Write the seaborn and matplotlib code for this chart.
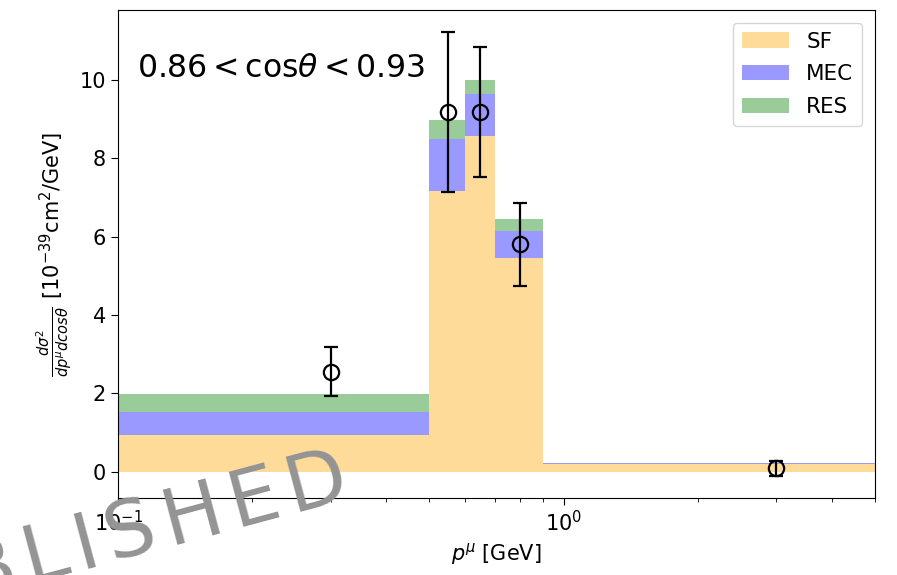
import numpy as np
import pandas as pd
import matplotlib
matplotlib.use("Agg")
import matplotlib.pyplot as plt
from matplotlib.patches import Patch
from matplotlib.font_manager import FontProperties
from matplotlib.textpath import TextToPath
import seaborn as sns

# Muon momentum bin edges [GeV] and bin centres
bin_edges = [0.1, 0.5, 0.6, 0.7, 0.9, 5.0]
bin_centres = [0.3, 0.55, 0.65, 0.80, 3.0]

# Stacked prediction per interaction channel [1e-39 cm^2/GeV]
sf_xsec = [0.93, 7.17, 8.58, 5.46, 0.20]
mec_xsec = [0.60, 1.33, 1.07, 0.67, 0.01]
res_xsec = [0.45, 0.47, 0.35, 0.33, 0.01]

# Measured cross section with uncertainties
data_p = [0.3, 0.55, 0.65, 0.80, 3.0]
data_xsec = [2.55, 9.18, 9.18, 5.80, 0.08]
data_err = [0.62, 2.04, 1.65, 1.06, 0.19]

channels = ["SF", "MEC", "RES"]
colors = {"SF": "orange", "MEC": "blue", "RES": "green"}

df = pd.DataFrame({
    "p": bin_centres * 3,
    "xsec": sf_xsec + mec_xsec + res_xsec,
    "channel": ["SF"] * 5 + ["MEC"] * 5 + ["RES"] * 5,
})

W, H, DPI = 897, 575, 100
fs = 15
fig = plt.figure(figsize=(W / DPI, H / DPI), dpi=DPI)
ax = fig.add_axes([118 / W, 1 - 498 / H, (875 - 118) / W, (498 - 10) / H])

# seaborn stacks the last hue level at the bottom
sns.histplot(data=df, x="p", weights="xsec", hue="channel",
             hue_order=["RES", "MEC", "SF"], multiple="stack",
             bins=bin_edges, palette=colors, alpha=0.4, linewidth=0,
             legend=False, ax=ax)

ax.errorbar(data_p, data_xsec, yerr=data_err, fmt="o", mfc="none",
            mec="k", ecolor="k", ms=11, mew=1.6, elinewidth=1.6,
            capsize=5, capthick=1.6, zorder=5)

ax.set_xscale("log")
ax.set_xlim(0.1, 5.0)
ax.set_xlabel(r"$p^{\mu}$ [GeV]", fontsize=fs)
ax.set_ylabel(r"$\frac{d\sigma^2}{dp^{\mu}dcos\theta}$ [$10^{-39}$cm$^2$/GeV]",
              fontsize=fs)
ax.tick_params(labelsize=fs, length=5)
ax.tick_params(which="minor", length=3)

handles = [Patch(facecolor=colors[c], alpha=0.4, linewidth=0) for c in channels]
ax.legend(handles, channels, loc="upper right", fontsize=15.5,
          handlelength=2.2, labelspacing=0.6, borderaxespad=0.6)

ax.text(0.025, 0.88, r"$0.86 < \mathrm{cos}\theta < 0.93$", transform=ax.transAxes,
        fontsize=22.7, ha="left", va="center")

# Letter-spaced, tilted watermark: each glyph placed along a rotated baseline
word = "UNPUBLISHED"
wm_size = 57
wm_angle = 15
tracking = 9  # extra px between glyphs
prop = FontProperties(family="DejaVu Sans", size=wm_size)
ttp = TextToPath()
adv = [ttp.get_text_width_height_descent(c, prop, ismath=False)[0] * DPI / 72
       for c in word]
dx, dy = np.cos(np.radians(wm_angle)), np.sin(np.radians(wm_angle))
last_x, last_y = 292, 512  # origin of the final glyph, px from top-left
offsets = np.cumsum([0] + [a + tracking for a in adv[:-1]])
offsets = offsets - offsets[-1]
for c, o in zip(word, offsets):
    px, py = last_x + o * dx, last_y - o * dy
    fig.text(px / W, 1 - py / H, c, fontproperties=prop, color="0.58",
             rotation=wm_angle, rotation_mode="anchor",
             ha="left", va="baseline")

fig.savefig("out.png", dpi=DPI)
